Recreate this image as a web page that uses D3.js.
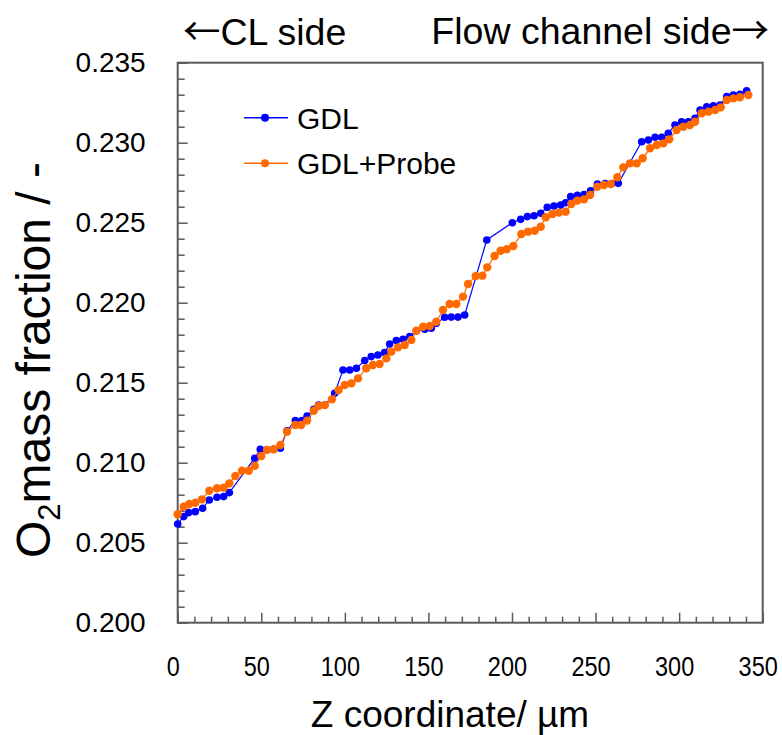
<!DOCTYPE html>
<html>
<head>
<meta charset="utf-8">
<script src="https://cdn.jsdelivr.net/npm/d3@7"></script>
<style>
  html, body { margin: 0; padding: 0; background: #fff; }
  svg { display: block; }
  text { font-family: "Liberation Sans", Arial, sans-serif; fill: #000; }
</style>
</head>
<body>
<svg id="chart" width="782" height="735"></svg>
<script>
// Z position (µm) and O2 mass fraction along the GDL, without the probe
const gdlZ = [0, 3.6, 6.6, 10.5, 14.9, 18.9, 23.5, 27.5, 30.9, 46.1, 49.4, 53.4, 57.4, 61.4,
  65.4, 70.4, 74.4, 77.4, 81.4, 84.3, 88.0, 93.9, 98.9, 102.9, 106.9, 111.9, 115.8, 119.8,
  123.8, 126.8, 130.8, 134.8, 138.8, 142.8, 147.8, 151.7, 154.7, 159.7, 163.7, 167.7, 171.7,
  184.9, 200.2, 205.2, 209.2, 213.2, 217.2, 221.1, 225.1, 229.1, 232.1, 235.1, 239.1, 243.1,
  247.0, 251.1, 255.7, 259.7, 263.6, 277.6, 281.6, 285.6, 289.6, 293.5, 297.5, 301.5, 305.5,
  309.5, 312.5, 316.5, 320.5, 324.5, 328.5, 332.4, 336.4, 340.4];
const gdlO2 = [0.20617, 0.20663, 0.20688, 0.20694, 0.20715, 0.20767, 0.20784, 0.20788, 0.20813,
  0.21028, 0.21084, 0.21080, 0.21084, 0.21090, 0.21200, 0.21263, 0.21263, 0.21292, 0.21334,
  0.21360, 0.21360, 0.21434, 0.21579, 0.21579, 0.21590, 0.21638, 0.21663, 0.21673, 0.21688,
  0.21742, 0.21763, 0.21771, 0.21788, 0.21825, 0.21834, 0.21840, 0.21871, 0.21909, 0.21910,
  0.21910, 0.21923, 0.22392, 0.22500, 0.22521, 0.22538, 0.22543, 0.22559, 0.22596, 0.22604,
  0.22610, 0.22625, 0.22663, 0.22671, 0.22676, 0.22700, 0.22742, 0.22745, 0.22745, 0.22746,
  0.23006, 0.23017, 0.23034, 0.23034, 0.23059, 0.23111, 0.23131, 0.23131, 0.23152, 0.23204,
  0.23225, 0.23230, 0.23235, 0.23288, 0.23298, 0.23302, 0.23325];

// Z position (µm) and O2 mass fraction with the probe inserted
const probeZ = [0, 3.6, 6.9, 10.5, 14.5, 18.9, 23.5, 27.5, 30.9, 34.5, 38.5, 42.5, 46.1, 50.0,
  53.4, 57.4, 61.4, 65.4, 70.4, 73.9, 77.4, 81.4, 84.3, 88.0, 92.3, 96.3, 99.9, 103.9, 107.9,
  112.8, 116.8, 120.8, 124.8, 127.8, 131.8, 135.8, 139.8, 142.8, 146.8, 150.8, 154.7, 158.7,
  162.7, 166.7, 170.7, 173.7, 178.3, 182.3, 185.2, 189.6, 193.2, 196.8, 200.8, 205.6, 209.6,
  213.6, 217.2, 220.2, 224.2, 228.1, 232.1, 235.5, 239.1, 243.1, 246.7, 251.1, 255.1, 259.1,
  263.0, 266.6, 270.6, 274.6, 278.2, 282.6, 286.6, 290.5, 294.1, 298.5, 302.5, 306.5, 309.5,
  313.5, 317.5, 321.5, 324.9, 328.5, 332.4, 336.4, 341.4];
const probeO2 = [0.20678, 0.20725, 0.20742, 0.20750, 0.20771, 0.20825, 0.20840, 0.20844, 0.20871,
  0.20917, 0.20950, 0.20950, 0.20980, 0.21042, 0.21080, 0.21084, 0.21111, 0.21194, 0.21236,
  0.21236, 0.21263, 0.21325, 0.21354, 0.21361, 0.21396, 0.21454, 0.21486, 0.21496, 0.21527,
  0.21590, 0.21611, 0.21617, 0.21652, 0.21694, 0.21721, 0.21736, 0.21767, 0.21825, 0.21850,
  0.21854, 0.21881, 0.21954, 0.21992, 0.21992, 0.22038, 0.22117, 0.22167, 0.22169, 0.22221,
  0.22292, 0.22325, 0.22334, 0.22354, 0.22429, 0.22444, 0.22450, 0.22475, 0.22534, 0.22554,
  0.22563, 0.22569, 0.22617, 0.22638, 0.22646, 0.22673, 0.22725, 0.22736, 0.22742, 0.22784,
  0.22846, 0.22871, 0.22871, 0.22903, 0.22965, 0.22986, 0.22996, 0.23021, 0.23079, 0.23100,
  0.23111, 0.23131, 0.23184, 0.23194, 0.23204, 0.23221, 0.23267, 0.23277, 0.23284, 0.23298];

const seriesNames = ["GDL", "GDL+Probe"];
const seriesColors = ["#0000ff", "#ff6a00"];

const xTicksMajor = [0, 50, 100, 150, 200, 250, 300, 350];
const yTicksMajor = [0.200, 0.205, 0.210, 0.215, 0.220, 0.225, 0.230, 0.235];

const svg = d3.select("#chart");
const plot = { left: 177.7, right: 762.7, top: 62.7, bottom: 622.7 };

const x = d3.scaleLinear().domain([0, 350]).range([plot.left, plot.right]);
const y = d3.scaleLinear().domain([0.200, 0.235]).range([plot.bottom, plot.top]);

const frameColor = "#5a5a5a";
const isMajorY = d => yTicksMajor.some(t => Math.abs(t - d) < 1e-9);

// X axis: minor ticks every 10 µm, major every 50 µm, pointing inward
const xAxis = d3.axisBottom(x)
  .tickValues(d3.range(0, 351, 10))
  .tickSizeInner(-6).tickSizeOuter(0).tickPadding(33)
  .tickFormat(d => xTicksMajor.includes(d) ? d3.format("d")(d) : "");
const gx = svg.append("g").attr("transform", `translate(0,${plot.bottom})`).call(xAxis);
gx.select(".domain").remove();
gx.selectAll(".tick line").attr("stroke", frameColor).attr("stroke-width", 1.5)
  .attr("y2", d => xTicksMajor.includes(d) ? -10 : -6);
// narrow digit style for the Z labels
gx.selectAll(".tick text").attr("font-size", 28).attr("font-family", "Liberation Sans, Arial, sans-serif")
  .attr("fill", "#000").attr("transform", "translate(-5,0) scale(0.84,1)");

// Y axis: minor ticks every 0.001, major every 0.005
const yMinor = d3.range(0, 36).map(i => +(0.200 + i * 0.001).toFixed(3));
const yAxis = d3.axisLeft(y)
  .tickValues(yMinor)
  .tickSizeInner(-7).tickSizeOuter(0).tickPadding(32)
  .tickFormat(d => isMajorY(d) ? d3.format(".3f")(d) : "");
const gy = svg.append("g").attr("transform", `translate(${plot.left},0)`).call(yAxis);
gy.select(".domain").remove();
gy.selectAll(".tick line").attr("stroke", frameColor).attr("stroke-width", 1.5)
  .attr("x2", d => isMajorY(d) ? 10 : 7);
gy.selectAll(".tick text").attr("font-size", 28).attr("font-family", "Liberation Sans, Arial, sans-serif")
  .attr("fill", "#000");

// Plot frame
svg.append("rect")
  .attr("x", plot.left).attr("y", plot.top)
  .attr("width", plot.right - plot.left).attr("height", plot.bottom - plot.top)
  .attr("fill", "none").attr("stroke", frameColor).attr("stroke-width", 2);

// Series
const series = [
  { name: seriesNames[0], color: seriesColors[0], pts: gdlZ.map((z, i) => [z, gdlO2[i]]), r: 3.8 },
  { name: seriesNames[1], color: seriesColors[1], pts: probeZ.map((z, i) => [z, probeO2[i]]), r: 4.2 }
];
const line = d3.line().x(d => x(d[0])).y(d => y(d[1]));

series.forEach(s => {
  const g = svg.append("g");
  g.append("path").attr("d", line(s.pts))
    .attr("fill", "none").attr("stroke", s.color).attr("stroke-width", 1.2);
  g.selectAll("circle").data(s.pts).join("circle")
    .attr("cx", d => x(d[0])).attr("cy", d => y(d[1])).attr("r", s.r)
    .attr("fill", s.color);
});

// Legend
const legend = svg.append("g");
series.forEach((s, i) => {
  const ly = 117.7 + i * 45.6;
  legend.append("line").attr("x1", 244).attr("x2", 288).attr("y1", ly).attr("y2", ly)
    .attr("stroke", s.color).attr("stroke-width", 1.5);
  legend.append("circle").attr("cx", 265).attr("cy", ly).attr("r", 4).attr("fill", s.color);
  legend.append("text").attr("x", 297).attr("y", ly + 11)
    .attr("font-size", 30).text(s.name);
});

// Axis titles
svg.append("text").attr("x", 450).attr("y", 727).attr("text-anchor", "middle")
  .attr("font-size", 37).text("Z coordinate/ µm");

const yt = svg.append("text")
  .attr("transform", `translate(50,360) rotate(-90)`)
  .attr("text-anchor", "middle").attr("font-size", 48);
yt.append("tspan").text("O");
yt.append("tspan").attr("font-size", 31).attr("dy", 10).text("2");
yt.append("tspan").attr("dy", -10).text("mass fraction / -");

// Direction labels above the plot
const arrowFont = "Noto Sans CJK JP, DejaVu Sans, sans-serif";
const cl = svg.append("text").attr("x", 183).attr("y", 45).attr("font-size", 37.5);
cl.append("tspan").attr("font-family", arrowFont).text("←");
cl.append("tspan").text("CL side");
const fc = svg.append("text").attr("x", 769).attr("y", 44).attr("text-anchor", "end")
  .attr("font-size", 37.5);
fc.append("tspan").text("Flow channel side");
fc.append("tspan").attr("font-family", arrowFont).text("→");
</script>
</body>
</html>
